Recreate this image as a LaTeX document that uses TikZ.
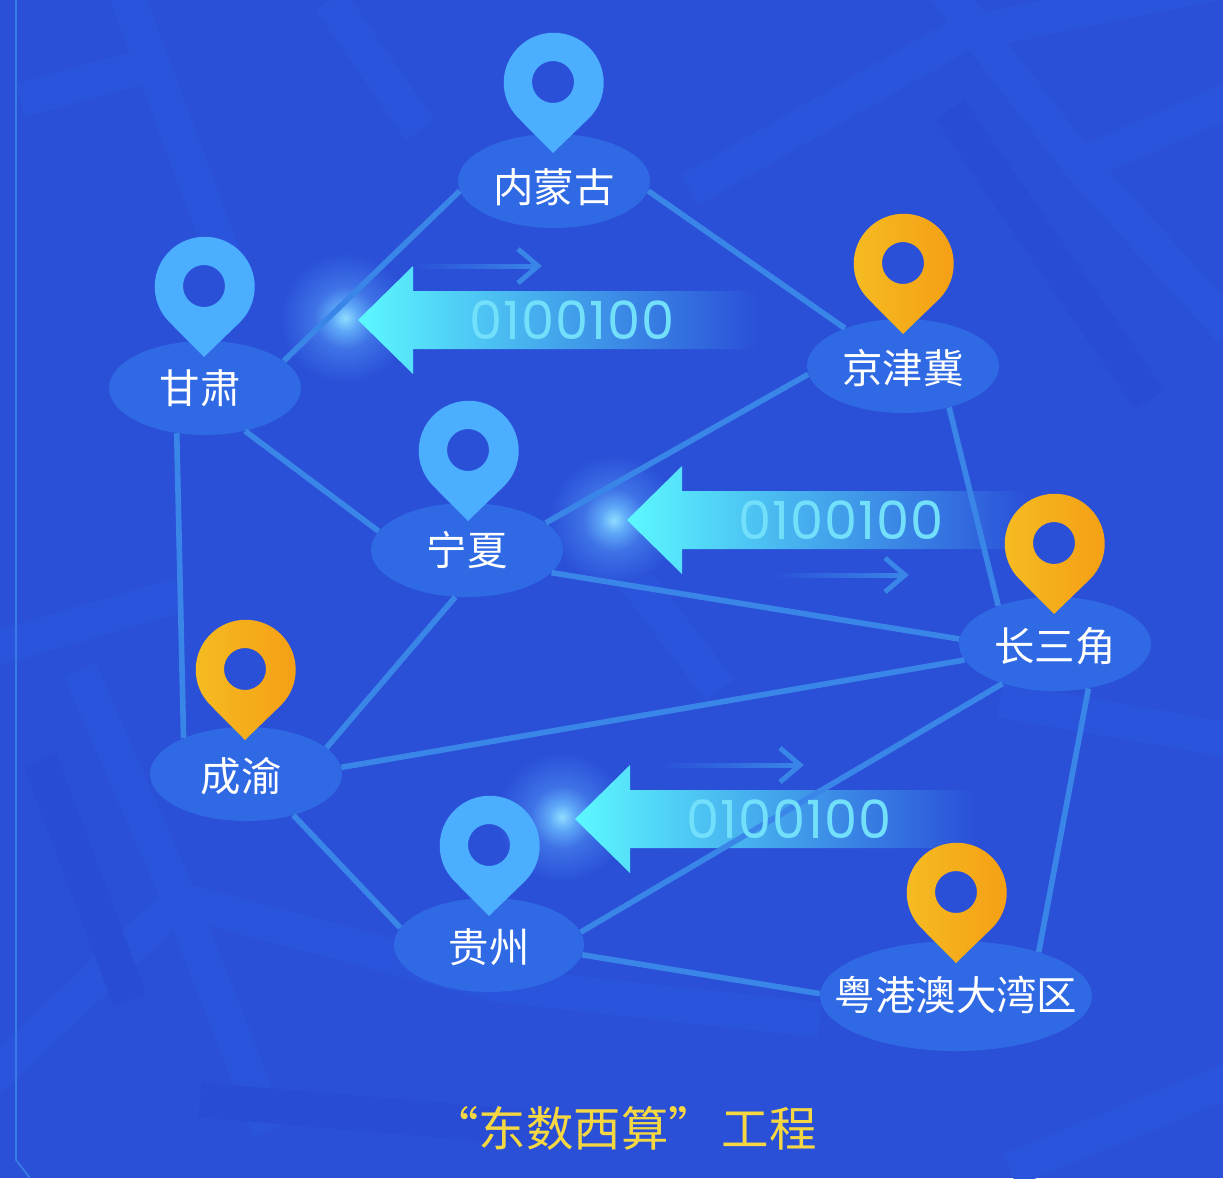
\documentclass[tikz,border=0pt]{standalone}
\usepackage{fontspec}
\setmainfont{Noto Sans CJK SC}
\newfontfamily\numfont[LetterSpace=2]{Poppins}
\usetikzlibrary{shapes.geometric, fadings}
\definecolor{bgBase}{HTML}{2A50D8}
\definecolor{bgRoad}{HTML}{2B54DD}
\definecolor{bgDark}{HTML}{284DD4}
\definecolor{edgeBlue}{HTML}{3A86E8}
\definecolor{cityBlue}{HTML}{2F69E4}
\definecolor{pinBlue}{HTML}{4BAEFF}
\definecolor{pinOrangeA}{HTML}{F5BC22}
\definecolor{pinOrangeB}{HTML}{F59E14}
\definecolor{arrowCyan}{HTML}{5CF8FF}
\definecolor{arrowMid}{HTML}{3A8EEE}
\definecolor{digitCyan}{HTML}{72DFFB}
\definecolor{titleYellow}{HTML}{F5D742}
\definecolor{glowA}{HTML}{8FDCFF}
\definecolor{glowB}{HTML}{5FA8F8}
\definecolor{glowC}{HTML}{3E72E6}
\pgfdeclareradialshading{glowShade}{\pgfpointorigin}{color(0bp)=(glowA); color(5bp)=(glowB); color(12bp)=(glowC); color(25bp)=(bgBase); color(50bp)=(bgBase)}
\tikzfading[name=fadeShaft, left color=transparent!100, right color=transparent!0]
\tikzset{%
	% roads in the background
	road/.style = {draw=bgRoad, line width=0.7cm},
	roadDark/.style = {draw=bgDark, line width=0.7cm},
	city/.style = {ellipse, fill=cityBlue, inner sep=0pt, minimum width=3.84cm, minimum height=1.88cm,
		text=white, text height=23pt, text depth=3pt, font=\fontsize{23pt}{26pt}\selectfont},
	link/.style = {draw=edgeBlue, line width=3.2pt},
	digits/.style = {text=digitCyan, font=\fontsize{30pt}{34pt}\numfont},
	bluePin/.pic = {
		\fill[pinBlue, even odd rule] (0,71) -- (-35,35.7) arc[start angle=224.4, end angle=-44.4, radius=1cm] -- cycle (0,0) circle[radius=0.42cm];
	},
	orangePin/.pic = {
		\shade[left color=pinOrangeA, right color=pinOrangeB, even odd rule] (0,71) -- (-35,35.7) arc[start angle=224.4, end angle=-44.4, radius=1cm] -- cycle (0,0) circle[radius=0.42cm];
	}
}
\begin{document}
\begin{tikzpicture}[x=0.02cm, y=-0.02cm]
	\useasboundingbox (0,0) rectangle (1223,1178);
	\fill[bgBase] (0,0) rectangle (1223,1178);
	\begin{scope}
		\clip (0,0) rectangle (1223,1178);
		% map roads
		\draw[road] (125,-10) -- (225,260);
		\draw[road] (20,100) -- (150,65);
		\draw[road] (330,0) -- (420,130);
		\draw[road] (690,190) -- (960,35) -- (1230,-20);
		\draw[road] (945,-10) -- (1080,165) -- (1230,330);
		\draw[road] (1080,165) -- (1230,100);
		\draw[road] (-10,650) -- (180,595);
		\draw[road] (80,670) -- (180,900) -- (270,1130);
		\draw[road] (180,900) -- (-10,1080);
		\draw[road] (180,900) -- (500,985) -- (820,1020);
		\draw[road] (1000,700) -- (1230,740);
		\draw[road] (620,560) -- (720,690);
		\draw[road] (1010,1170) -- (1230,1080);
		\draw[roadDark] (950,110) -- (1150,400);
		\draw[roadDark] (200,1100) -- (560,1130);
		\draw[roadDark] (40,760) -- (130,1000);
	\end{scope}
	\draw[edgeBlue!80!bgBase, line width=1pt] (16,0) -- (16,1160) -- (30,1178);
	% glow at the arrow tips
	\foreach \glowx/\glowy in {345/318, 614/520, 562/817}
		\shade[shading=glowShade] (\glowx,\glowy) circle[radius=1.3cm];
	% big arrows
	\foreach \tipx/\tipy in {358/320, 627/520, 575/819}
		\shade[left color=arrowCyan, middle color=arrowMid, right color=bgBase]
			(\tipx,\tipy) -- ++(55,-54) -- ++(0,25) -- ++(345,0) -- ++(0,58) -- ++(-345,0) -- ++(0,25) -- cycle;
	% cities
	\node (neimeng) [city, text height=27pt] at (554,181) {内蒙古};
	\node (gansu) [city, text height=20.3pt] at (205,388) {甘肃\kern0.2cm};
	\node (jingjinji) [city] at (903,366) {京津冀};
	\node (ningxia) [city, text height=20.3pt] at (467,550) {宁夏};
	\node (changsanjiao) [city] at (1055,644) {长三角};
	\node (chengyu) [city] at (246,774) {成渝\kern0.2cm};
	\node (guizhou) [city, minimum width=3.8cm] at (489,945) {贵州};
	\node (yuegang) [city, minimum width=5.44cm, minimum height=2.2cm, text height=19pt] at (956,996) {\makebox[0pt]{粤港澳大湾区}};
	% links
	\draw[link] (neimeng.186.8) -- (gansu.19.7);
	\draw[link] (neimeng.-6.7) -- (jingjinji.147.4);
	\draw[link] (gansu.-47.7) -- (ningxia.168.6);
	\draw[link] (gansu.238) -- (chengyu.150.3);
	\draw[link] (jingjinji.185.5) -- (ningxia.19.7);
	\draw[link] (jingjinji.-42.5) -- (changsanjiao.146.8);
	\draw[link] (ningxia.-15.5) -- (changsanjiao.177.6);
	\draw[link] (ningxia.256.8) -- (chengyu.18.4);
	\draw[link] (chengyu.4.9) -- (changsanjiao.190);
	\draw[link] (chengyu.-41.2) -- (guizhou.169.2);
	\draw[link] (guizhou.8) -- (changsanjiao.217.9);
	\draw[link] (guizhou.-6.7) -- (yuegang.179);
	\draw[link] (changsanjiao.-53.5) -- (yuegang.28.7);
	% digits on the arrows
	\node (dataA) [digits] at (572,320) {0100100};
	\node (dataB) [digits] at (841,520) {0100100};
	\node (dataC) [digits] at (789,819) {0100100};
	% small arrows
	\foreach \headx/\heady/\shaftlen in {538/266/125, 905/575/135, 800/765/140} {
		\fill[edgeBlue, path fading=fadeShaft] (\headx,\heady-2.5) rectangle (\headx-\shaftlen,\heady+2.5);
		\draw[edgeBlue, line width=2.8pt] (\headx-20,\heady-17) -- (\headx,\heady) -- (\headx-20,\heady+17);
	}
	% pins
	\pic (pinNeimeng) at (553,82) {bluePin};
	\pic (pinGansu) at (204,286) {bluePin};
	\pic (pinNingxia) at (468,450) {bluePin};
	\pic (pinGuizhou) at (489,845) {bluePin};
	\pic (pinJingjinji) at (903,263) {orangePin};
	\pic (pinChangsanjiao) at (1054,543) {orangePin};
	\pic (pinChengyu) at (245,669) {orangePin};
	\pic (pinYuegang) at (956,892) {orangePin};
	\node (title) [text=titleYellow, font=\fontsize{27pt}{30pt}\selectfont] at (624,1128) {“东数西算”\kern-0.1cm{} 工程};
\end{tikzpicture}
\end{document}
